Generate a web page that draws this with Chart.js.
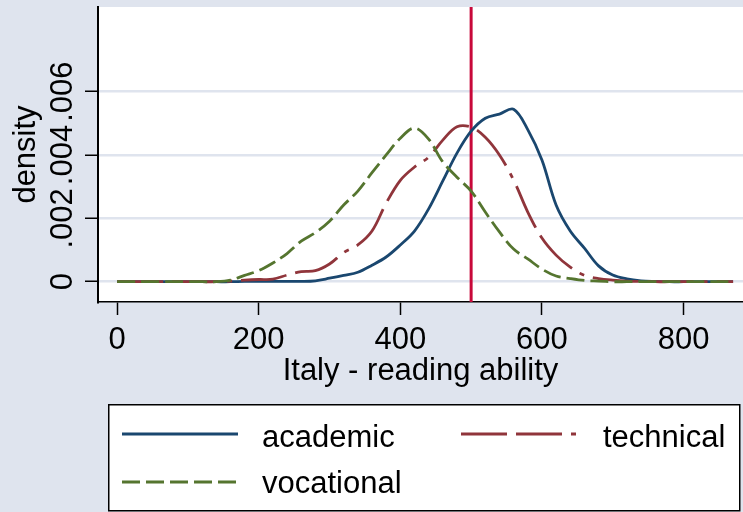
<!DOCTYPE html>
<html>
<head>
<meta charset="utf-8">
<script src="https://cdn.jsdelivr.net/npm/chart.js@4.4.1/dist/chart.umd.min.js"></script>
<style>
  html, body { margin: 0; padding: 0; background: #dfe4ee; }
  canvas { display: block; }
</style>
</head>
<body>
<canvas id="densityChart" width="743" height="512"></canvas>
<script>
// reading score grid (x) and kernel density estimates per school track
const scores = [0, 20, 40, 60, 80, 100, 120, 140, 160, 180, 200, 220, 240, 260, 280, 300,
    320, 340, 360, 380, 400, 420, 440, 460, 480, 500, 520, 540, 560, 580, 600, 620,
    640, 660, 680, 700, 720, 740, 760, 780, 800, 820, 840, 860, 870];

const academic = [0, 0, 0, 0, 0, 0, 0, 0, 0, 0.00001, 0.00001, 0.00001, 0.00001, 0.00001, 0.00003, 0.00011,
    0.0002, 0.0003, 0.00052, 0.00078, 0.00116, 0.0016, 0.0023, 0.00318, 0.00406, 0.00475, 0.00516, 0.00529, 0.00544, 0.0048, 0.00384, 0.00242,
    0.0016, 0.00106, 0.0005, 0.00021, 0.00009, 0.00003, 0.00001, 0, 0, 0, 0, 0, 0];

const technical = [0, 0, 0, 0, 0, 0, 0, 0, 0.00002, 0.00005, 0.00007, 0.00008, 0.00021, 0.00032, 0.00035, 0.00056,
    0.00092, 0.00116, 0.0016, 0.00248, 0.0032, 0.00362, 0.00393, 0.00447, 0.00489, 0.00488, 0.00456, 0.004, 0.00321, 0.0022, 0.00138, 0.00084,
    0.00046, 0.0002, 0.0001, 0.00005, 0.00002, 0.00001, 0, 0, 0, 0, 0, 0, 0];

const vocational = [0, 0, 0, 0, 0, 0, 0, 0, 0.00005, 0.0002, 0.00035, 0.00059, 0.00089, 0.00128, 0.00155, 0.00191,
    0.00242, 0.00286, 0.00344, 0.004, 0.00453, 0.00485, 0.0045, 0.00378, 0.0033, 0.00286, 0.0022, 0.00157, 0.00103, 0.00072, 0.0004, 0.00018,
    0.0001, 0.00004, 0.00002, 0, 0, 0, 0, 0, 0, 0, 0, 0, 0];

const seriesNames = ["academic", "technical", "vocational"];
const xTicks = [0, 200, 400, 600, 800];
const yTicks = [0, 0.002, 0.004, 0.006];
const yTickLabels = ["0", ".002", ".004", ".006"];
const refLine = 500;

const FONT = "'Liberation Sans', Arial, sans-serif";
const bgColor = "#dfe4ee";
const colors = { academic: "#1a476f", technical: "#90353b", vocational: "#55752f" };
const dashes = { academic: [], technical: [46, 9, 46, 9, 5, 9], vocational: [18, 6] };

function points(values) {
    return scores.map((s, i) => ({ x: s, y: values[i] }));
}

const stataLook = {
    id: "stataLook",
    beforeDraw(chart) {
        const { ctx, chartArea } = chart;
        ctx.save();
        ctx.fillStyle = bgColor;
        ctx.fillRect(0, 0, chart.width, chart.height);
        ctx.fillStyle = "#ffffff";
        ctx.fillRect(chartArea.left, chartArea.top,
            chartArea.right - chartArea.left, chartArea.bottom - chartArea.top);
        ctx.restore();
    },
    beforeDatasetsDraw(chart) {
        // xline at the OECD mean
        const { ctx, chartArea, scales } = chart;
        const px = scales.x.getPixelForValue(refLine);
        ctx.save();
        ctx.strokeStyle = "#c8083a";
        ctx.lineWidth = 3;
        ctx.beginPath();
        ctx.moveTo(px, chartArea.top);
        ctx.lineTo(px, chartArea.bottom);
        ctx.stroke();
        ctx.restore();
    },
    afterDraw(chart) {
        const { ctx, scales } = chart;
        ctx.save();

        // vertical y tick labels, Stata style
        ctx.fillStyle = "#000";
        ctx.font = "31px " + FONT;
        ctx.textAlign = "center";
        ctx.textBaseline = "alphabetic";
        yTicks.forEach((v, i) => {
            const py = scales.y.getPixelForValue(v);
            ctx.save();
            ctx.translate(72, py);
            ctx.rotate(-Math.PI / 2);
            ctx.fillText(yTickLabels[i], 0, 0);
            ctx.restore();
        });

        // legend box
        ctx.fillStyle = "#ffffff";
        ctx.fillRect(108, 404, 632, 107);
        ctx.strokeStyle = "#000";
        ctx.lineWidth = 1.5;
        ctx.strokeRect(108.75, 404.75, 631, 106);

        const items = [
            { name: seriesNames[0], x0: 122, x1: 238, y: 434, tx: 262, ty: 447 },
            { name: seriesNames[1], x0: 461, x1: 579, y: 434, tx: 603, ty: 447 },
            { name: seriesNames[2], x0: 122, x1: 238, y: 482, tx: 262, ty: 493 }
        ];
        items.forEach(it => {
            ctx.strokeStyle = colors[it.name];
            ctx.lineWidth = 2.8;
            ctx.setLineDash(dashes[it.name]);
            ctx.beginPath();
            ctx.moveTo(it.x0, it.y);
            ctx.lineTo(it.x1, it.y);
            ctx.stroke();
            ctx.setLineDash([]);
            ctx.fillStyle = "#000";
            ctx.textAlign = "left";
            ctx.fillText(it.name, it.tx, it.ty);
        });
        ctx.restore();
    }
};

const ctx = document.getElementById("densityChart").getContext("2d");
const chart = new Chart(ctx, {
    type: "line",
    data: {
        datasets: [
            { label: seriesNames[0], data: points(academic), order: 2 },
            { label: seriesNames[1], data: points(technical), order: 1 },
            { label: seriesNames[2], data: points(vocational), order: 0 }
        ].map(d => Object.assign(d, {
            borderColor: colors[d.label],
            borderDash: dashes[d.label],
            borderWidth: 2.8,
            pointRadius: 0,
            fill: false,
            tension: 0.35
        }))
    },
    options: {
        responsive: false,
        animation: false,
        devicePixelRatio: 1,
        layout: { padding: { top: 7, left: 0, right: 0, bottom: 0 } },
        plugins: { legend: { display: false }, tooltip: { enabled: false } },
        scales: {
            x: {
                type: "linear",
                min: -27,
                max: 884,
                afterBuildTicks: s => { s.ticks = xTicks.map(v => ({ value: v })); },
                afterFit: s => { s.height = 210; },
                grid: { drawOnChartArea: false, tickLength: 13, tickColor: "#000", tickWidth: 1.5 },
                border: { color: "#000", width: 1.5 },
                ticks: {
                    color: "#000",
                    font: { family: FONT, size: 31 },
                    padding: 7,
                    maxRotation: 0,
                    autoSkip: false,
                    callback: v => String(v)
                },
                title: {
                    display: true,
                    text: "Italy - reading ability",
                    color: "#000",
                    font: { family: FONT, size: 31 },
                    padding: { top: 0, bottom: 122 }
                }
            },
            y: {
                min: -0.00064,
                max: 0.00867,
                afterBuildTicks: s => { s.ticks = yTicks.map(v => ({ value: v })); },
                afterFit: s => { s.width = 98; },
                grid: { color: bgColor, lineWidth: 2.5, tickLength: 13, tickColor: "#000", tickWidth: 1.5 },
                border: { color: "#000", width: 2 },
                ticks: { display: false },
                title: {
                    display: true,
                    text: "density",
                    color: "#000",
                    font: { family: FONT, size: 31 },
                    padding: { top: 8, bottom: 0 }
                }
            }
        }
    },
    plugins: [stataLook]
});
</script>
</body>
</html>
